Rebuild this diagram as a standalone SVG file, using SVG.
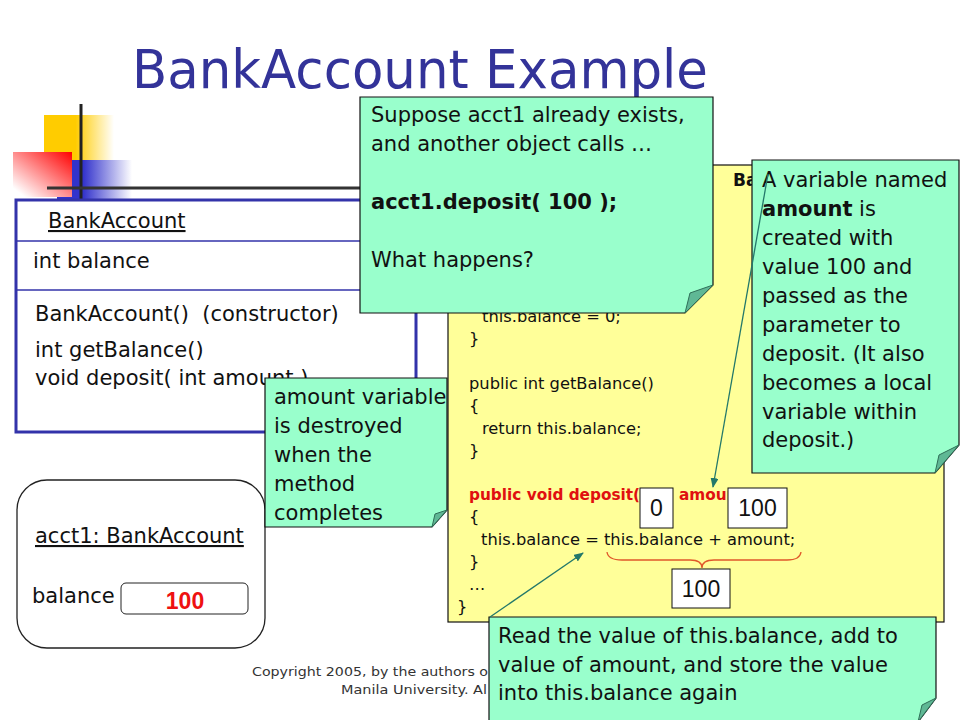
<svg xmlns="http://www.w3.org/2000/svg" width="960" height="720" viewBox="0 0 960 720">
<defs>
<style>
text{font-family:"DejaVu Sans","Noto Sans",sans-serif;fill:#111}
.n{font-size:21px}
.c{font-size:16.3px}
.red{font-size:15.3px;font-weight:bold;fill:#e01010}
.note{fill:#99ffcc;stroke:#111;stroke-width:1.2}
.fold{fill:#5fb895;stroke:#2f6f58;stroke-width:1}
.num{font-family:"Liberation Sans",Arial,sans-serif;font-size:23px;text-anchor:middle}
.box{fill:#fff;stroke:#111;stroke-width:1}
.conn{stroke:#23786a;stroke-width:1.3;fill:none;marker-end:url(#ah)}
.copy{font-size:13px;fill:#333}
</style>
<linearGradient id="gy" x1="0" y1="0" x2="1" y2="0"><stop offset="0.45" stop-color="#ffcc00"/><stop offset="1" stop-color="#ffcc00" stop-opacity="0"/></linearGradient>
<linearGradient id="gb" x1="0" y1="0" x2="1" y2="0"><stop offset="0.35" stop-color="#3333cc"/><stop offset="1" stop-color="#3333cc" stop-opacity="0"/></linearGradient>
<linearGradient id="gr" x1="1" y1="0" x2="0" y2="1"><stop offset="0" stop-color="#ff0000"/><stop offset="0.9" stop-color="#ffffff"/></linearGradient>
<marker id="ah" viewBox="0 0 10 8" refX="9" refY="4" markerWidth="10" markerHeight="8" markerUnits="userSpaceOnUse" orient="auto"><path d="M0,0 L10,4 L0,8 z" fill="#23786a"/></marker>
</defs>
<rect width="960" height="720" fill="#fff"/>

<g id="decoration">
<rect x="44" y="115" width="70" height="45" fill="url(#gy)"/>
<rect x="57" y="160" width="75" height="50" fill="url(#gb)"/>
<rect x="13" y="152" width="59" height="45" fill="url(#gr)"/>
<line x1="81" y1="104" x2="81" y2="212" stroke="#222" stroke-width="3"/>
<line x1="47" y1="188" x2="400" y2="188" stroke="#333" stroke-width="3"/>
</g>

<g id="title">
<text x="132" y="88" font-size="54" textLength="576" lengthAdjust="spacingAndGlyphs" style="fill:#333399">BankAccount Example</text>
</g>

<g id="class-box">
<rect x="16" y="200" width="400" height="232" fill="#fff" stroke="#3333aa" stroke-width="3"/>
<line x1="16" y1="241" x2="416" y2="241" stroke="#3333aa" stroke-width="1.5"/>
<line x1="16" y1="290" x2="416" y2="290" stroke="#3333aa" stroke-width="1.5"/>
<text class="n" x="48" y="228" text-decoration="underline">BankAccount</text>
<text class="n" x="33" y="268">int balance</text>
<text class="n" x="35" y="321">BankAccount()&#160; (constructor)</text>
<text class="n" x="35" y="357">int getBalance()</text>
<text class="n" x="35" y="385">void deposit( int amount )</text>
</g>

<g id="object-box">
<rect x="17" y="480" width="248" height="168" rx="30" fill="#fff" stroke="#222" stroke-width="1.3"/>
<text class="n" x="35" y="543" text-decoration="underline">acct1: BankAccount</text>
<text class="n" x="32" y="603">balance</text>
<rect x="121" y="583" width="127" height="31" rx="5" fill="#fff" stroke="#222" stroke-width="1"/>
<text x="185" y="609" font-weight="bold" font-size="23" text-anchor="middle" style="fill:#ee1111;font-family:'Liberation Sans',Arial,sans-serif">100</text>
</g>

<g id="copyright">
<text class="copy" x="252" y="676" textLength="236" lengthAdjust="spacingAndGlyphs">Copyright 2005, by the authors o</text>
<text class="copy" x="341" y="694" textLength="146" lengthAdjust="spacingAndGlyphs">Manila University. Al</text>
</g>

<g id="note-destroyed">
<path class="note" d="M265,378 H447 V510 L432,527 H265 Z"/>
<path class="fold" d="M432,527 L435,514 L447,510 Z"/>
<text class="n" x="274" y="404">amount variable</text>
<text class="n" x="274" y="433">is destroyed</text>
<text class="n" x="274" y="462">when the</text>
<text class="n" x="274" y="491">method</text>
<text class="n" x="274" y="520">completes</text>
</g>

<g id="code-box">
<rect x="448" y="165" width="496" height="457" fill="#ffff99" stroke="#111" stroke-width="1.2"/>
<text x="733" y="186" font-size="17" font-weight="bold">Ba</text>
<text class="c" x="482" y="322">this.balance = 0;</text>
<text class="c" x="469" y="344">}</text>
<text class="c" x="469" y="389">public int getBalance()</text>
<text class="c" x="469" y="411">{</text>
<text class="c" x="482" y="434">return this.balance;</text>
<text class="c" x="469" y="456">}</text>
<text class="red" x="469" y="500">public void deposit(</text>
<text class="red" x="679" y="500">amoun</text>
<text class="c" x="469" y="522">{</text>
<text class="c" x="481" y="545">this.balance = this.balance + amount;</text>
<text class="c" x="469" y="567">}</text>
<text class="c" x="469" y="590">…</text>
<text class="c" x="457" y="612">}</text>
</g>

<g id="value-zero">
<rect class="box" x="640" y="488" width="33" height="40"/>
<text class="num" x="656.5" y="516">0</text>
</g>
<g id="value-param">
<rect class="box" x="728" y="488" width="59" height="40"/>
<text class="num" x="757.5" y="516">100</text>
</g>
<g id="brace">
<path d="M607,552 Q608,560 622,560 L690,560 Q702,560 702,568 Q702,560 714,560 L787,560 Q800,560 801,552" fill="none" stroke="#e0582a" stroke-width="1.3"/>
</g>
<g id="value-sum">
<rect class="box" x="672" y="569" width="58" height="39"/>
<text class="num" x="701" y="597">100</text>
</g>

<g id="note-suppose">
<path class="note" d="M360,97 H713 V285 L685,313 H360 Z"/>
<path class="fold" d="M685,313 L690,293 L713,285 Z"/>
<text class="n" x="371" y="122">Suppose acct1 already exists,</text>
<text class="n" x="371" y="151">and another object calls …</text>
<text class="n" x="371" y="209" font-weight="bold">acct1.deposit( 100 );</text>
<text class="n" x="371" y="267">What happens?</text>
</g>

<g id="note-amount">
<path class="note" d="M752,160 H959 V445 L935,473 H752 Z"/>
<path class="fold" d="M935,473 L939,455 L959,445 Z"/>
<text class="n" x="762" y="187">A variable named</text>
<text class="n" x="762" y="216"><tspan font-weight="bold">amount</tspan> is</text>
<text class="n" x="762" y="245">created with</text>
<text class="n" x="762" y="274">value 100 and</text>
<text class="n" x="762" y="303">passed as the</text>
<text class="n" x="762" y="332">parameter to</text>
<text class="n" x="762" y="361">deposit. (It also</text>
<text class="n" x="762" y="390">becomes a local</text>
<text class="n" x="762" y="419">variable within</text>
<text class="n" x="762" y="447">deposit.)</text>
</g>

<g id="note-read">
<path class="note" d="M489,617 H936 V698 L918,722 H489 Z"/>
<path class="fold" d="M918,722 L922,705 L936,698 Z"/>
<text class="n" x="498" y="643">Read the value of this.balance, add to</text>
<text class="n" x="498" y="672">value of amount, and store the value</text>
<text class="n" x="498" y="700">into this.balance again</text>
</g>

<g id="connectors">
<line class="conn" x1="768" y1="174" x2="713" y2="487"/>
<line class="conn" x1="490" y1="617" x2="583" y2="553"/>
</g>
</svg>
